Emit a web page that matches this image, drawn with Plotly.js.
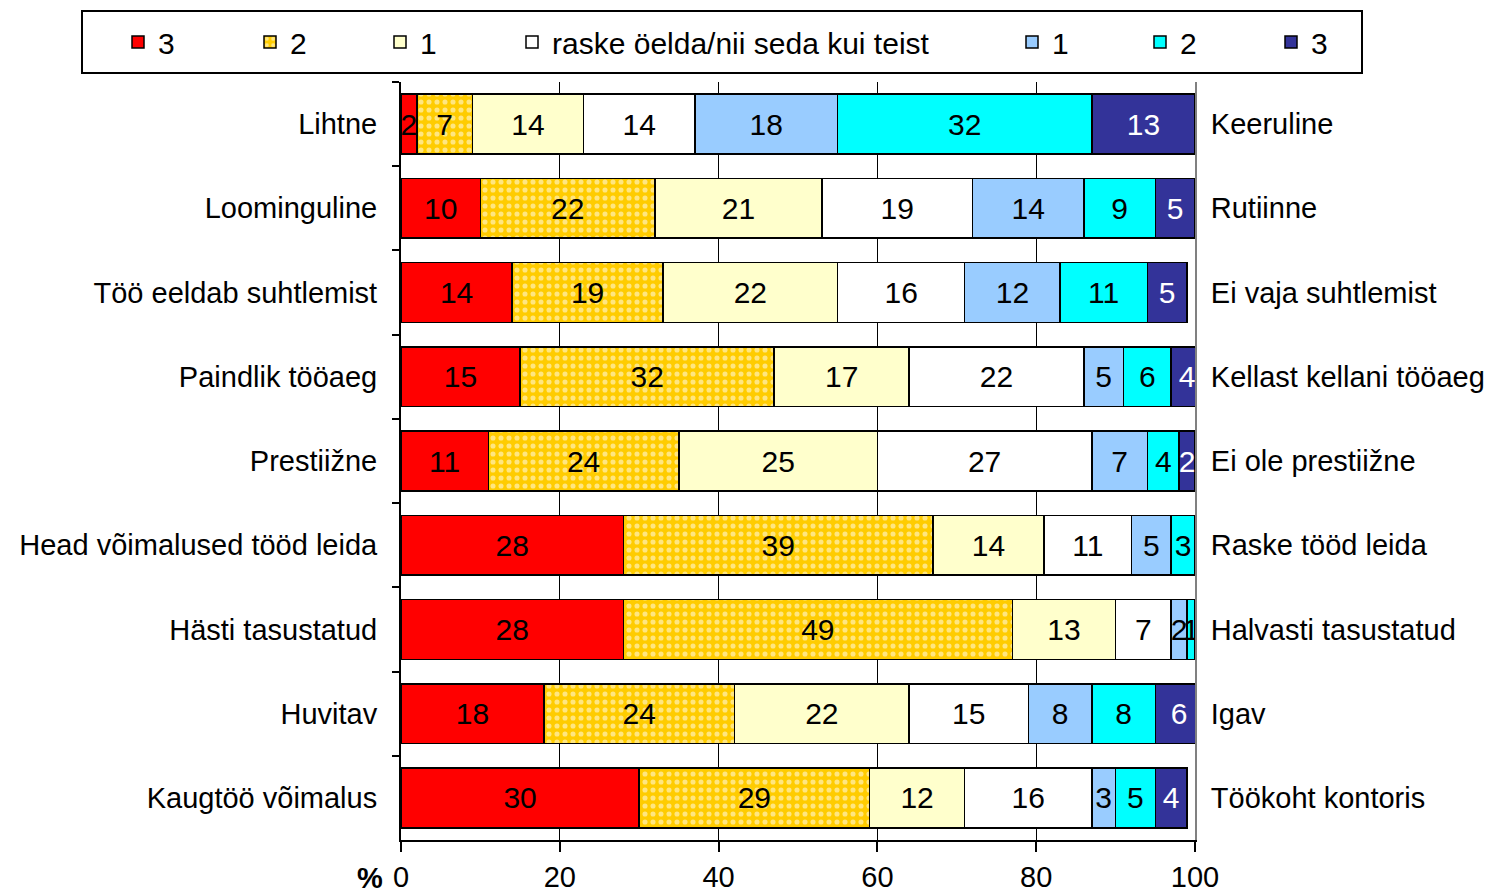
<!DOCTYPE html>
<html><head><meta charset="utf-8">
<script src="https://cdn.plot.ly/plotly-3.0.1.min.js"></script>
<style>html,body{margin:0;padding:0;background:#fff}</style>
</head><body>
<div id="chart" style="width:1499px;height:893px"></div>
<script>
const leftLabels = ["Lihtne","Loominguline","Töö eeldab suhtlemist","Paindlik tööaeg","Prestiižne","Head võimalused tööd leida","Hästi tasustatud","Huvitav","Kaugtöö võimalus"];
const rightLabels = ["Keeruline","Rutiinne","Ei vaja suhtlemist","Kellast kellani tööaeg","Ei ole prestiižne","Raske tööd leida","Halvasti tasustatud","Igav","Töökoht kontoris"];
const seriesNames = ["3","2","1","raske öelda/nii seda kui teist","1","2","3"];
const left3   = [2,10,14,15,11,28,28,18,30];
const left2   = [7,22,19,32,24,39,49,24,29];
const left1   = [14,21,22,17,25,14,13,22,12];
const neutral = [14,19,16,22,27,11,7,15,16];
const right1  = [18,14,12,5,7,5,2,8,3];
const right2  = [32,9,11,6,4,3,1,8,5];
const right3  = [13,5,5,4,2,0,0,6,4];
const xTicks  = [0,20,40,60,80,100];

const W = 1499, H = 893;
const mL = 401, mR = 304, mT = 82, mB = 53;
const pw = W - mL - mR, ph = H - mT - mB;
const px2x = p => (p - mL) / pw;
const py2y = p => (H - mB - p) / ph;

const FONT = "Liberation Sans, Arial, sans-serif";
const colors = ["#FF0000","#FFCC00","#FFFFCC","#FFFFFF","#99CCFF","#00FFFF","#333399"];
const textColors = ["#000","#000","#000","#000","#000","#000","#FFF"];
const seriesVals = [left3,left2,left1,neutral,right1,right2,right3];
const legendSymbolCenters = [138,270,400,532,1032,1160,1291];

const traces = seriesVals.map((vals, k) => {
  const t = {
    type: "bar", orientation: "h",
    name: seriesNames[k],
    x: vals, y: leftLabels,
    marker: {color: colors[k], line: {color: "#000", width: 1.5}},
    text: vals.map(v => v > 0 ? String(v) : ""),
    textposition: "inside", insidetextanchor: "middle",
    constraintext: "none", textangle: 0,
    textfont: {family: FONT, size: 30, color: textColors[k]},
    hoverinfo: "x+name",
    legend: k === 0 ? "legend" : "legend" + (k + 1)
  };
  if (k === 1) {
    t.marker.pattern = {shape: ".", fgcolor: "#FFFFFF", bgcolor: "#FFCC00", size: 8, solidity: 0.32, fillmode: "overlay"};
  }
  return t;
});
// helper trace so the right-hand axis is drawn
traces.push({type: "scatter", x: [null], y: [rightLabels[0]], yaxis: "y2", showlegend: false, hoverinfo: "skip", mode: "markers"});

const layout = {
  width: W, height: H,
  margin: {l: mL, r: mR, t: mT, b: mB, pad: 0},
  paper_bgcolor: "#fff", plot_bgcolor: "#fff",
  barmode: "stack", bargap: 0.29,
  font: {family: FONT, size: 29, color: "#000"},
  xaxis: {
    range: [0, 100], tickvals: xTicks, ticktext: xTicks.map(String),
    showgrid: true, gridcolor: "#000", gridwidth: 1, zeroline: false,
    showline: true, linecolor: "#000", linewidth: 2,
    ticks: "outside", ticklen: 10, tickwidth: 2, tickcolor: "#000",
    tickfont: {family: FONT, size: 29}, fixedrange: true
  },
  yaxis: {
    type: "category", categoryorder: "array", categoryarray: leftLabels,
    range: [8.5, -0.5], autorange: false,
    showline: true, linecolor: "#000", linewidth: 2,
    ticks: "outside", tickson: "boundaries", ticklen: 7, tickwidth: 2, tickcolor: "#000",
    ticklabelstandoff: 16,
    showgrid: false, zeroline: false,
    tickfont: {family: FONT, size: 29}, fixedrange: true
  },
  yaxis2: {
    type: "category", categoryorder: "array", categoryarray: rightLabels,
    overlaying: "y", side: "right", anchor: "x",
    range: [8.5, -0.5], autorange: false,
    showline: true, linecolor: "#808080", linewidth: 2,
    ticks: "", ticklabelstandoff: 8, showgrid: false, zeroline: false,
    tickfont: {family: FONT, size: 29}, fixedrange: true
  },
  shapes: [{
    type: "rect", xref: "paper", yref: "paper",
    x0: px2x(82), x1: px2x(1362), y0: py2y(73), y1: py2y(11),
    line: {color: "#000", width: 2}, fillcolor: "rgba(0,0,0,0)"
  }],
  annotations: [{
    text: "<b>%</b>", xref: "paper", yref: "paper",
    x: px2x(370), y: py2y(878), xanchor: "center", yanchor: "middle",
    showarrow: false, font: {family: FONT, size: 29, color: "#000"}
  }]
};
legendSymbolCenters.forEach((c, k) => {
  const key = k === 0 ? "legend" : "legend" + (k + 1);
  layout[key] = {
    orientation: "h", x: px2x(c - 20), xanchor: "left",
    y: py2y(42), yanchor: "middle",
    bgcolor: "rgba(0,0,0,0)", borderwidth: 0,
    font: {family: FONT, size: 30, color: "#000"},
    traceorder: "normal"
  };
});

Plotly.newPlot("chart", traces, layout, {displayModeBar: false, staticPlot: true});
</script>
</body></html>
